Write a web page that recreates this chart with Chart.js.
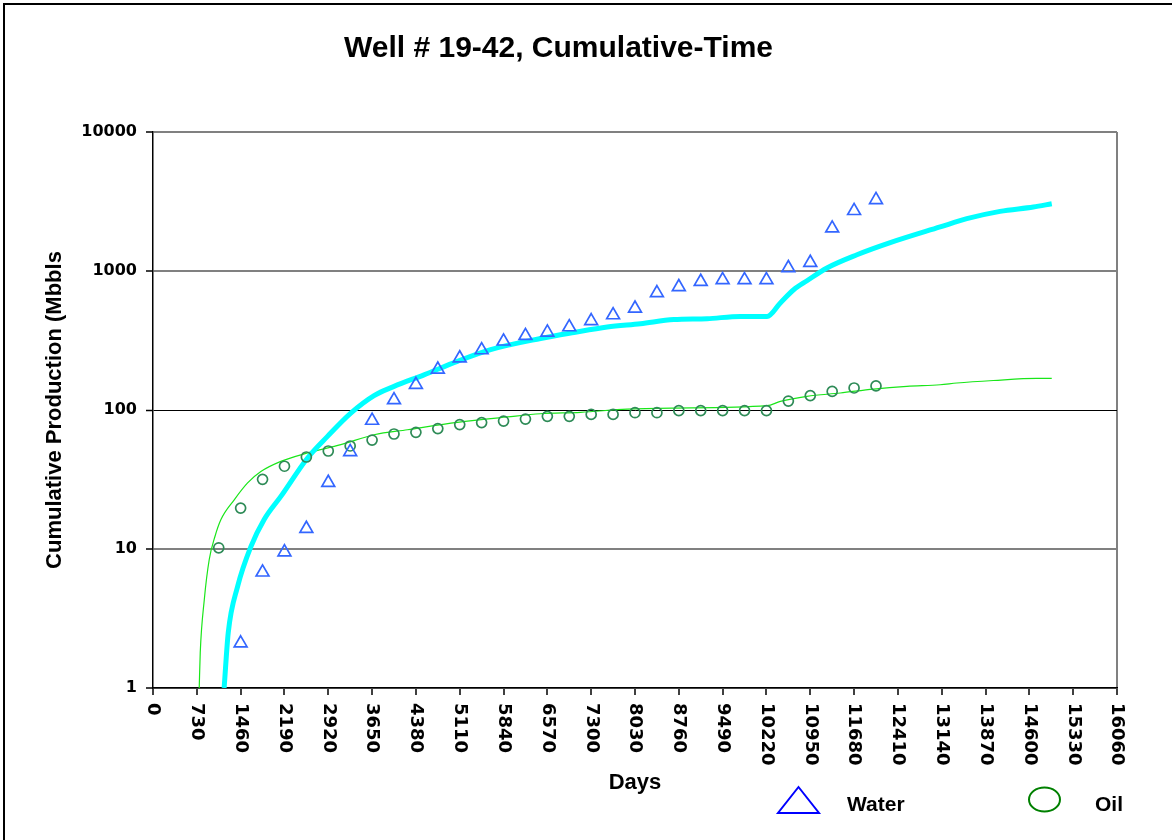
<!DOCTYPE html>
<html>
<head>
<meta charset="utf-8">
<title>Well # 19-42, Cumulative-Time</title>
<script src="https://cdn.jsdelivr.net/npm/chart.js@4/dist/chart.umd.min.js"></script>
<style>
  html, body { margin: 0; padding: 0; background: #fff; overflow: hidden; }
  #frame {
    position: absolute; left: 3px; top: 3px; width: 1400px; height: 1100px;
    border-left: 2px solid #000; border-top: 2px solid #000;
  }
  #chart { position: absolute; left: 0; top: 0; }
</style>
</head>
<body>
<div id="frame"></div>
<canvas id="chart" width="1172" height="840"></canvas>
<script>
// Axis ticks
const dayTicks = [0, 730, 1460, 2190, 2920, 3650, 4380, 5110, 5840, 6570, 7300, 8030,
  8760, 9490, 10220, 10950, 11680, 12410, 13140, 13870, 14600, 15330, 16060];
const prodTicks = [1, 10, 100, 1000, 10000];

// Series names shown in the key
const seriesNames = ['Water', 'Oil'];

// Measured cumulative water (Mbbls), yearly
const waterDays = [1460, 1825, 2190, 2555, 2920, 3285, 3650, 4015, 4380, 4745, 5110, 5475,
  5840, 6205, 6570, 6935, 7300, 7665, 8030, 8395, 8760, 9125, 9490, 9855, 10220, 10585,
  10950, 11315, 11680, 12045];
const waterMbbl = [2.1, 6.8, 9.5, 14, 30, 50, 84, 118, 152, 196, 236, 270,
  312, 342, 362, 395, 437, 482, 538, 695, 768, 838, 862, 862, 862, 1052,
  1148, 2030, 2710, 3250];

// Measured cumulative oil (Mbbls), yearly
const oilDays = [1095, 1460, 1825, 2190, 2555, 2920, 3285, 3650, 4015, 4380, 4745, 5110,
  5475, 5840, 6205, 6570, 6935, 7300, 7665, 8030, 8395, 8760, 9125, 9490, 9855, 10220,
  10585, 10950, 11315, 11680, 12045];
const oilMbbl = [10.2, 19.7, 31.7, 39.4, 45.9, 50.7, 55.1, 60.8, 67.2, 69.1, 73.5, 78.5,
  81.2, 83.3, 86.1, 90, 90, 93, 93, 95.6, 95.6, 98.9, 99, 99, 99, 99,
  116, 127, 136, 144, 149];

// Model curve for water
const waterFitDays = [1185, 1253, 1410, 1631, 1852, 2130, 2575, 2907, 3295, 3683, 4016, 4515,
  5071, 5625, 6457, 7012, 7567, 8121, 8676, 9231, 9786, 10230, 10451, 10673, 10895, 11228,
  11728, 12282, 13114, 13558, 14112, 14667, 14973];
const waterFitMbbl = [1.0, 2.49, 5.38, 10.4, 16.3, 23.9, 45.2, 64.6, 95, 127, 148, 179,
  224, 272, 327, 361, 395, 418, 447, 454, 471, 471, 589, 733, 851, 1052,
  1309, 1600, 2075, 2378, 2685, 2884, 3048];

// Model curve for oil
const oilFitDays = [770, 787, 854, 937, 1032, 1132, 1353, 1576, 1797, 2130, 2575, 3129,
  3683, 4239, 5071, 5903, 6457, 7123, 7900, 8676, 10230, 10451, 10895, 11450, 12004,
  12560, 13114, 13392, 14001, 14723, 14973];
const oilFitMbbl = [1.0, 1.79, 4.3, 8.4, 12.3, 16.3, 22.6, 29.9, 36.1, 42.7, 49.1, 56.3,
  66.4, 72.1, 81.4, 89.1, 94, 96.2, 101.6, 103.3, 107.4, 115.3, 125.4, 132.5, 141.5,
  148, 152, 156.4, 163, 168.8, 168.8];

const pts = (xs, ys) => xs.map((x, i) => ({ x: x, y: ys[i] }));

// Day labels hang downward from the axis, reading top to bottom
const hangingDayLabels = {
  id: 'hangingDayLabels',
  afterDraw(chart) {
    const sx = chart.scales.x;
    const ctx = chart.ctx;
    ctx.save();
    ctx.font = 'bold 18px "DejaVu Sans"';
    ctx.fillStyle = '#000';
    ctx.textAlign = 'left';
    ctx.textBaseline = 'middle';
    sx.ticks.forEach(t => {
      const px = sx.getPixelForValue(t.value);
      ctx.save();
      ctx.translate(px, chart.chartArea.bottom + 15);
      ctx.rotate(Math.PI / 2);
      ctx.fillText(String(t.value), 0, 0);
      ctx.restore();
    });
    ctx.restore();
  }
};

// Key in the lower right corner
const seriesKey = {
  id: 'seriesKey',
  afterDraw(chart) {
    const ctx = chart.ctx;
    ctx.save();
    ctx.lineWidth = 2;
    // triangle
    ctx.strokeStyle = '#0000ff';
    ctx.beginPath();
    ctx.moveTo(778, 813);
    ctx.lineTo(819, 813);
    ctx.lineTo(798.5, 787);
    ctx.closePath();
    ctx.stroke();
    // ellipse
    ctx.strokeStyle = '#008000';
    ctx.beginPath();
    ctx.ellipse(1044.5, 799.5, 15.5, 12, 0, 0, Math.PI * 2);
    ctx.stroke();
    ctx.fillStyle = '#000';
    ctx.font = 'bold 21px "Liberation Sans", Arial, sans-serif';
    ctx.textAlign = 'left';
    ctx.textBaseline = 'alphabetic';
    ctx.fillText(seriesNames[0], 847, 810.5);
    ctx.fillText(seriesNames[1], 1095, 810.5);
    ctx.restore();
  }
};

Chart.defaults.color = '#000';
Chart.defaults.font.family = '"Liberation Sans", Arial, sans-serif';

new Chart(document.getElementById('chart'), {
  type: 'scatter',
  data: {
    datasets: [
      {
        label: seriesNames[0],
        data: pts(waterDays, waterMbbl),
        pointStyle: 'triangle',
        pointRadius: 7.4,
        pointHoverRadius: 7.4,
        borderColor: '#3366ff',
        backgroundColor: 'rgba(0,0,0,0)',
        pointBorderWidth: 1.7,
        showLine: false,
        order: 0
      },
      {
        label: seriesNames[1],
        data: pts(oilDays, oilMbbl),
        pointStyle: 'circle',
        pointRadius: 5,
        pointHoverRadius: 5,
        borderColor: '#2e8b57',
        backgroundColor: 'rgba(0,0,0,0)',
        pointBorderWidth: 1.7,
        showLine: false,
        order: 1
      },
      {
        label: 'Water model',
        data: pts(waterFitDays, waterFitMbbl),
        showLine: true,
        pointRadius: 0,
        borderColor: '#00ffff',
        borderWidth: 5,
        cubicInterpolationMode: 'monotone',
        order: 2
      },
      {
        label: 'Oil model',
        data: pts(oilFitDays, oilFitMbbl),
        showLine: true,
        pointRadius: 0,
        borderColor: '#19e619',
        borderWidth: 1.2,
        cubicInterpolationMode: 'monotone',
        order: 3
      }
    ]
  },
  options: {
    responsive: false,
    animation: false,
    events: [],
    layout: { padding: { left: 0, right: 55, top: 0, bottom: 0 } },
    plugins: {
      legend: { display: false },
      tooltip: { enabled: false },
      title: {
        display: true,
        text: 'Well # 19-42, Cumulative-Time',
        color: '#000',
        font: { size: 30, weight: 'bold', family: '"Liberation Sans", Arial, sans-serif' },
        padding: { top: 31, bottom: 65 }
      }
    },
    scales: {
      x: {
        type: 'linear',
        min: 0,
        max: 16060,
        afterBuildTicks: s => { s.ticks = dayTicks.map(v => ({ value: v })); },
        afterFit: s => { s.height = 152; },
        ticks: { display: false },
        grid: {
          drawOnChartArea: true,
          color: c => (c.tick && c.tick.value === 16060) ? '#808080' : 'rgba(0,0,0,0)',
          lineWidth: 2,
          tickColor: '#000',
          tickWidth: 1.5,
          tickLength: 7
        },
        border: { display: true, color: '#000', width: 1.5 },
        title: {
          display: true,
          text: 'Days',
          color: '#000',
          font: { size: 22, weight: 'bold' },
          padding: { top: 0, bottom: 44 }
        }
      },
      y: {
        type: 'logarithmic',
        min: 1,
        max: 10000,
        afterBuildTicks: s => { s.ticks = prodTicks.map(v => ({ value: v })); },
        afterFit: s => { s.width = 153; },
        ticks: {
          callback: v => String(v),
          font: { size: 16, weight: 'bold', family: '"DejaVu Sans"' },
          color: '#000',
          padding: 9
        },
        grid: {
          color: c => (c.tick && c.tick.value === 100) ? '#000' : '#808080',
          lineWidth: c => (c.tick && c.tick.value === 100) ? 1 : 2,
          tickColor: '#000',
          tickWidth: 1.5,
          tickLength: 7
        },
        border: { display: true, color: '#000', width: 1.5 },
        title: {
          display: true,
          text: 'Cumulative Production (Mbbls',
          color: '#000',
          font: { size: 22, weight: 'bold' },
          padding: { top: 42, bottom: 0 }
        }
      }
    }
  },
  plugins: [hangingDayLabels, seriesKey]
});
</script>
</body>
</html>
